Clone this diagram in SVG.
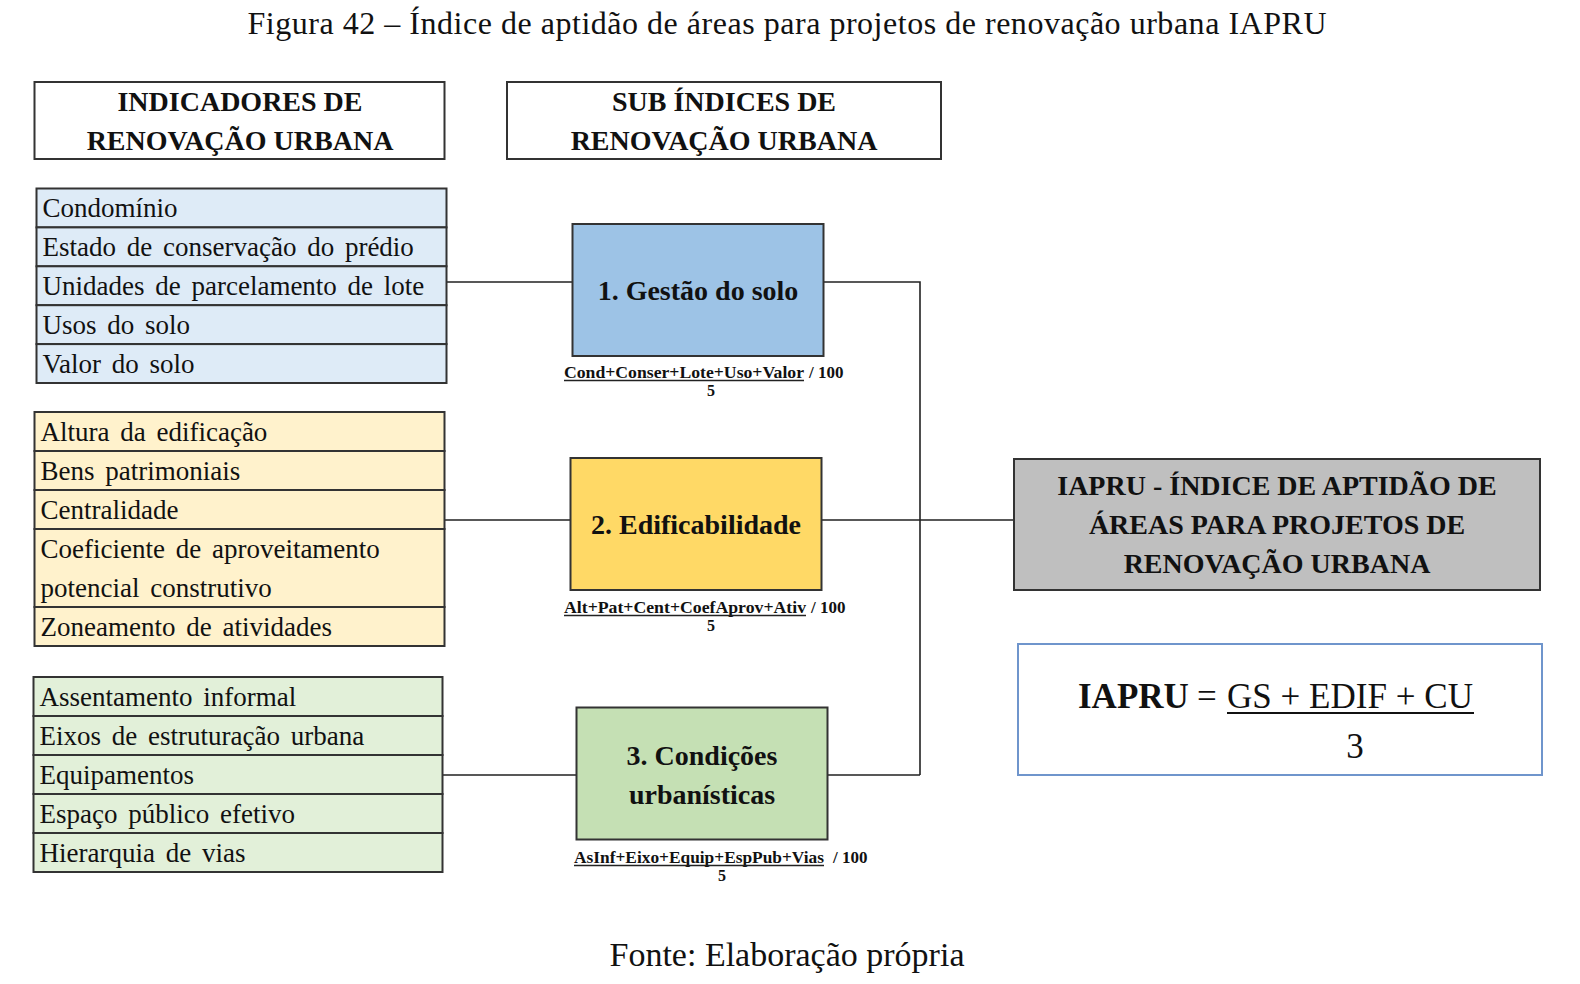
<svg xmlns="http://www.w3.org/2000/svg" width="1580" height="984" viewBox="0 0 1580 984">
<style>
text{font-family:"Liberation Serif","Times New Roman",serif;fill:#111}
.cap{font-size:32px}
.foot{font-size:34px}
.hd{font-size:28px;font-weight:bold;text-anchor:middle}
.it{font-size:27px;word-spacing:4px}
.sb{font-size:28px;font-weight:bold;text-anchor:middle}
.fm{font-size:16px;font-weight:bold}
.fd{font-size:17px;font-weight:bold}
.box{stroke:#333;stroke-width:2}
.conn{fill:none;stroke:#222;stroke-width:1.6}
</style>
<rect width="1580" height="984" fill="#fff"/>
<text class="cap" x="787" y="34" text-anchor="middle" textLength="1079" lengthAdjust="spacing">Figura 42 – Índice de aptidão de áreas para projetos de renovação urbana IAPRU</text>

<g id="connectors">
<path class="conn" d="M446 282H572M823 282H920V775M827 775H920M444 520H570M821 520H1014M442 775H576"/>
</g>

<g id="header-indicadores">
<rect class="box" x="34.5" y="82" width="410" height="77" fill="#fff"/>
<text class="hd" x="240" y="111">INDICADORES DE</text>
<text class="hd" x="240" y="150">RENOVAÇÃO URBANA</text>
</g>
<g id="header-subindices">
<rect class="box" x="507" y="82" width="434" height="77" fill="#fff"/>
<text class="hd" x="724" y="111">SUB ÍNDICES DE</text>
<text class="hd" x="724" y="150">RENOVAÇÃO URBANA</text>
</g>

<g id="list-gestao">
<rect class="box" x="36.5" y="188.5" width="410" height="38.9" fill="#deebf7"/>
<rect class="box" x="36.5" y="227.4" width="410" height="38.9" fill="#deebf7"/>
<rect class="box" x="36.5" y="266.3" width="410" height="38.9" fill="#deebf7"/>
<rect class="box" x="36.5" y="305.2" width="410" height="38.9" fill="#deebf7"/>
<rect class="box" x="36.5" y="344.1" width="410" height="38.9" fill="#deebf7"/>
<text class="it" x="42.5" y="217">Condomínio</text>
<text class="it" x="42.5" y="256">Estado de conservação do prédio</text>
<text class="it" x="42.5" y="295">Unidades de parcelamento de lote</text>
<text class="it" x="42.5" y="334">Usos do solo</text>
<text class="it" x="42.5" y="373">Valor do solo</text>
</g>

<g id="list-edif">
<rect class="box" x="34.5" y="412" width="410" height="39" fill="#fff2cc"/>
<rect class="box" x="34.5" y="451" width="410" height="39" fill="#fff2cc"/>
<rect class="box" x="34.5" y="490" width="410" height="39" fill="#fff2cc"/>
<rect class="box" x="34.5" y="529" width="410" height="78" fill="#fff2cc"/>
<rect class="box" x="34.5" y="607" width="410" height="39" fill="#fff2cc"/>
<text class="it" x="40.5" y="441">Altura da edificação</text>
<text class="it" x="40.5" y="480">Bens patrimoniais</text>
<text class="it" x="40.5" y="519">Centralidade</text>
<text class="it" x="40.5" y="558">Coeficiente de aproveitamento</text>
<text class="it" x="40.5" y="597">potencial construtivo</text>
<text class="it" x="40.5" y="636">Zoneamento de atividades</text>
</g>

<g id="list-cond">
<rect class="box" x="33.5" y="677" width="409" height="39" fill="#e2f0d9"/>
<rect class="box" x="33.5" y="716" width="409" height="39" fill="#e2f0d9"/>
<rect class="box" x="33.5" y="755" width="409" height="39" fill="#e2f0d9"/>
<rect class="box" x="33.5" y="794" width="409" height="39" fill="#e2f0d9"/>
<rect class="box" x="33.5" y="833" width="409" height="39" fill="#e2f0d9"/>
<text class="it" x="39.5" y="706">Assentamento informal</text>
<text class="it" x="39.5" y="745">Eixos de estruturação urbana</text>
<text class="it" x="39.5" y="784">Equipamentos</text>
<text class="it" x="39.5" y="823">Espaço público efetivo</text>
<text class="it" x="39.5" y="862">Hierarquia de vias</text>
</g>

<g id="node-gestao">
<rect class="box" x="572.5" y="224" width="251" height="132" fill="#9dc3e6"/>
<text class="sb" x="698" y="300">1. Gestão do solo</text>
<text class="fm" x="564" y="378" textLength="240" lengthAdjust="spacingAndGlyphs">Cond+Conser+Lote+Uso+Valor</text>
<line x1="564" y1="380.5" x2="804" y2="380.5" stroke="#222" stroke-width="1.3"/>
<text class="fd" x="809" y="378">/ 100</text>
<text class="fm" x="711" y="396" text-anchor="middle">5</text>
</g>

<g id="node-edif">
<rect class="box" x="570.5" y="458" width="251" height="132" fill="#ffd966"/>
<text class="sb" x="696" y="534">2. Edificabilidade</text>
<text class="fm" x="564" y="613" textLength="242" lengthAdjust="spacingAndGlyphs">Alt+Pat+Cent+CoefAprov+Ativ</text>
<line x1="564" y1="615.5" x2="806" y2="615.5" stroke="#222" stroke-width="1.3"/>
<text class="fd" x="811" y="613">/ 100</text>
<text class="fm" x="711" y="631" text-anchor="middle">5</text>
</g>

<g id="node-cond">
<rect class="box" x="576.5" y="707.5" width="251" height="132" fill="#c5e0b4"/>
<text class="sb" x="702" y="765">3. Condições</text>
<text class="sb" x="702" y="804">urbanísticas</text>
<text class="fm" x="574" y="863" textLength="250" lengthAdjust="spacingAndGlyphs">AsInf+Eixo+Equip+EspPub+Vias</text>
<line x1="574" y1="865.5" x2="824" y2="865.5" stroke="#222" stroke-width="1.3"/>
<text class="fd" x="833" y="863">/ 100</text>
<text class="fm" x="722" y="881" text-anchor="middle">5</text>
</g>

<g id="node-iapru">
<rect class="box" x="1014" y="459" width="526" height="131" fill="#bfbfbf"/>
<text class="hd" x="1277" y="495">IAPRU - ÍNDICE DE APTIDÃO DE</text>
<text class="hd" x="1277" y="534">ÁREAS PARA PROJETOS DE</text>
<text class="hd" x="1277" y="573">RENOVAÇÃO URBANA</text>
</g>

<g id="formula">
<rect x="1018" y="644" width="524" height="131" fill="#fff" stroke="#6f95cc" stroke-width="2"/>
<text x="1078" y="708" font-size="35" font-weight="bold">IAPRU</text>
<text x="1197" y="708" font-size="35">=</text>
<text x="1227" y="708" font-size="35" textLength="246" lengthAdjust="spacing">GS + EDIF + CU</text>
<line x1="1227" y1="713" x2="1474" y2="713" stroke="#111" stroke-width="2"/>
<text x="1355" y="758" font-size="35" text-anchor="middle">3</text>
</g>

<text class="foot" x="787" y="966" text-anchor="middle">Fonte: Elaboração própria</text>
</svg>
